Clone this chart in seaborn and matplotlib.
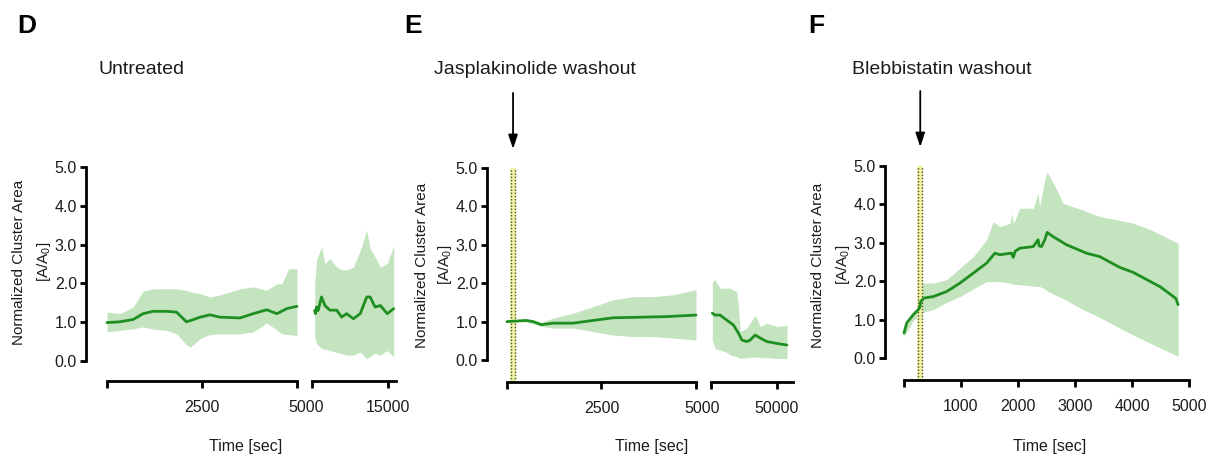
import numpy as np
import pandas as pd
import matplotlib
matplotlib.use("Agg")
import matplotlib.pyplot as plt
import matplotlib.transforms as mtransforms
import seaborn as sns

# ---------------- data ----------------
# Panel D (Untreated) - segment 1 (0-5000 s)
d1_line_t = [0, 330, 690, 950, 1210, 1570, 1830, 2090, 2220, 2450, 2710, 2970, 3500, 3850, 4200, 4470, 4730, 5000]
d1_line_y = [0.99, 1.01, 1.07, 1.22, 1.28, 1.28, 1.26, 1.01, 1.05, 1.13, 1.19, 1.13, 1.11, 1.22, 1.32, 1.22, 1.35, 1.41]
d1_band_t = [0, 330, 690, 950, 1210, 1570, 1830, 2090, 2200, 2450, 2710, 2970, 3500, 3850, 4200, 4470, 4600, 4780, 5000]
d1_band_hi = [1.26, 1.22, 1.39, 1.80, 1.86, 1.86, 1.86, 1.82, 1.78, 1.74, 1.65, 1.70, 1.86, 1.91, 1.82, 1.99, 1.99, 2.38, 2.38]
d1_band_lo = [0.75, 0.79, 0.83, 0.88, 0.82, 0.79, 0.70, 0.42, 0.36, 0.58, 0.68, 0.70, 0.70, 0.75, 0.98, 0.80, 0.70, 0.68, 0.66]
# Panel D - segment 2 (5000-16000 s)
d2_line_t = [5350, 5450, 5600, 5800, 6250, 6700, 7350, 8250, 8900, 9550, 10450, 11350, 12200, 12650, 13300, 14000, 14900, 15750]
d2_line_y = [1.30, 1.22, 1.39, 1.30, 1.65, 1.43, 1.31, 1.31, 1.13, 1.22, 1.09, 1.22, 1.65, 1.65, 1.39, 1.43, 1.22, 1.35]
d2_band_t = [5350, 5600, 6250, 6700, 7350, 8250, 8900, 9550, 10450, 11350, 12200, 12650, 13300, 14000, 14900, 15750]
d2_band_hi = [1.99, 2.60, 2.94, 2.51, 2.64, 2.42, 2.35, 2.35, 2.42, 2.85, 3.37, 2.90, 2.68, 2.42, 2.51, 2.98]
d2_band_lo = [0.62, 0.45, 0.32, 0.30, 0.27, 0.22, 0.19, 0.15, 0.15, 0.23, 0.06, 0.12, 0.20, 0.15, 0.27, 0.10]

# Panel E (Jasplakinolide washout) - segment 1
e1_line_t = [0, 510, 690, 910, 1220, 1750, 2280, 2810, 3340, 4220, 5000]
e1_line_y = [1.00, 1.03, 1.00, 0.92, 0.96, 0.96, 1.03, 1.10, 1.11, 1.13, 1.17]
e1_band_t = [0, 510, 900, 1220, 1750, 2280, 2810, 3340, 3870, 4400, 5000]
e1_band_hi = [1.00, 1.04, 0.98, 1.09, 1.22, 1.39, 1.57, 1.65, 1.65, 1.70, 1.83]
e1_band_lo = [1.00, 0.99, 0.88, 0.83, 0.83, 0.74, 0.65, 0.61, 0.61, 0.57, 0.52]
# Panel E - segment 2 (5000-61000 s)
e2_line_t = [5900, 7700, 11200, 15700, 20300, 23700, 26000, 29400, 31700, 35100, 38600, 43100, 50000, 56800]
e2_line_y = [1.22, 1.17, 1.17, 1.04, 0.91, 0.70, 0.52, 0.48, 0.52, 0.65, 0.57, 0.48, 0.43, 0.39]
e2_band_t = [5900, 7700, 11200, 15700, 18000, 22600, 23700, 24900, 29400, 35100, 38600, 43100, 50000, 56800]
e2_band_hi = [2.04, 2.09, 1.87, 1.87, 1.87, 1.78, 1.39, 0.74, 0.83, 1.17, 0.87, 0.96, 0.87, 0.91]
e2_band_lo = [0.52, 0.30, 0.26, 0.20, 0.13, 0.09, 0.06, 0.04, 0.06, 0.08, 0.06, 0.06, 0.04, 0.04]

# Panel F (Blebbistatin washout)
f_line_t = [0, 47, 164, 251, 280, 292, 350, 514, 748, 981, 1215, 1449, 1595, 1682, 1887, 1916, 1950, 2033,
            2266, 2354, 2370, 2412, 2471, 2512, 2617, 2850, 3200, 3435, 3785, 4020, 4500, 4770, 4808]
f_line_y = [0.65, 0.91, 1.13, 1.26, 1.32, 1.47, 1.56, 1.60, 1.73, 1.95, 2.21, 2.47, 2.73, 2.69, 2.73, 2.62, 2.78, 2.86,
            2.90, 3.08, 2.92, 2.90, 3.08, 3.27, 3.16, 2.95, 2.73, 2.64, 2.36, 2.23, 1.85, 1.55, 1.39]
f_band_t = [0, 150, 285, 300, 510, 750, 980, 1215, 1450, 1565, 1680, 1860, 1890, 1920, 2030, 2270, 2350, 2380,
            2470, 2510, 2680, 2790, 3140, 3440, 3730, 4020, 4310, 4810]
f_band_hi = [0.75, 1.10, 1.35, 1.95, 1.95, 2.04, 2.34, 2.64, 3.08, 3.55, 3.42, 3.51, 3.77, 3.50, 3.90, 3.90, 4.29, 3.95,
             4.64, 4.85, 4.38, 4.03, 3.85, 3.68, 3.60, 3.51, 3.35, 2.99]
f_band_lo = [0.55, 0.95, 1.15, 1.17, 1.26, 1.45, 1.60, 1.80, 1.99, 1.99, 1.99, 1.95, 1.93, 1.92, 1.91, 1.87, 1.86, 1.86,
             1.80, 1.75, 1.62, 1.55, 1.26, 1.05, 0.82, 0.60, 0.39, 0.04]

washout_e = 160
washout_f = 285

y_ticks = [0, 1, 2, 3, 4, 5]
y_ticklabels = ["0.0", "1.0", "2.0", "3.0", "4.0", "5.0"]
titles = ["Untreated", "Jasplakinolide washout", "Blebbistatin washout"]
letters = ["D", "E", "F"]
ylabel_main = "Normalized Cluster Area"
ylabel_unit = "[A/A$_0$]"
xlabel = "Time [sec]"

# ---------------- style ----------------
sns.set_theme(style="ticks")
plt.rcParams["font.family"] = ["Liberation Sans", "DejaVu Sans"]
plt.rcParams["mathtext.default"] = "regular"
TXT_C = "#1c1c1c"
plt.rcParams["text.color"] = TXT_C
plt.rcParams["xtick.labelcolor"] = TXT_C
plt.rcParams["ytick.labelcolor"] = TXT_C

LINE_C = "#1f8e20"
FILL_C = "#c4e4c0"
AX_LW = 2.0
TICK_FS = 11.5

W, H = 1215, 458
fig = plt.figure(figsize=(W / 100, H / 100), dpi=100)


def make_ax(x_left, x_right, t_px, t0, tref_px, tref, ypx0, ypx5, axis_px):
    scale = (tref - t0) / (tref_px - t_px)
    xlim = (t0 - (t_px - x_left) * scale, t0 + (x_right - t_px) * scale)
    unit = (ypx0 - ypx5) / 5.0
    top_px = ypx5 - 3
    ylim = (-(axis_px - ypx0) / unit, 5 + 3 / unit)
    ax = fig.add_axes([x_left / W, 1 - axis_px / H, (x_right - x_left) / W, (axis_px - top_px) / H])
    ax.set_xlim(*xlim)
    ax.set_ylim(*ylim)
    ax.patch.set_alpha(0)
    for s in ("top", "right"):
        ax.spines[s].set_visible(False)
    for s in ("left", "bottom"):
        ax.spines[s].set_linewidth(AX_LW)
        ax.spines[s].set_color("black")
    ax.tick_params(axis="x", direction="out", length=5, width=AX_LW, pad=9, labelsize=TICK_FS, color="black")
    ax.tick_params(axis="y", direction="out", length=4.5, width=AX_LW, pad=2, labelsize=TICK_FS, color="black")
    return ax, unit, ylim


def draw(ax, lt, ly, bt, bhi, blo):
    ax.fill_between(bt, blo, bhi, color=FILL_C, lw=0, zorder=1)
    sns.lineplot(x=lt, y=ly, ax=ax, color=LINE_C, lw=2.0, zorder=3, clip_on=False)
    ax.set_xlabel("")
    ax.set_ylabel("")


def first_axis(ax, t_end, xt, xl):
    ax.spines["left"].set_bounds(0, 5)
    ax.set_yticks(y_ticks)
    ax.set_yticklabels(y_ticklabels)
    ax.spines["bottom"].set_bounds(0, t_end)
    ax.set_xticks(xt)
    ax.set_xticklabels(xl)


def second_axis(ax, xt, xl):
    ax.spines["left"].set_visible(False)
    ax.set_yticks([])
    ax.set_xticks(xt)
    ax.set_xticklabels(xl)


def shared_label(ax, t, dx_pt):
    ax.annotate("5000", xy=(t, 0), xycoords=("data", "axes fraction"), xytext=(dx_pt, -(5 + 9)),
                textcoords="offset points", ha="center", va="top", fontsize=TICK_FS, annotation_clip=False)


def washout(ax, t, ylo, unit):
    ax.plot([t, t], [ylo, 5], color="#eef3a4", lw=4.2, solid_capstyle="butt", clip_on=False, zorder=2)
    for dx in (-1.5, 1.5):
        tr = mtransforms.offset_copy(ax.transData, fig=fig, x=dx, y=0, units="points")
        ax.plot([t, t], [ylo, 5], color="#4d4d2e", lw=1.0, ls=(0, (1, 1.3)), transform=tr, clip_on=False, zorder=2)
    ax.annotate("", xy=(t, 5 + 19 / unit), xytext=(t, 5 + 75 / unit), annotation_clip=False,
                arrowprops=dict(arrowstyle="-|>,head_length=0.6,head_width=0.2", mutation_scale=14,
                                color="black", lw=1.3, shrinkA=0, shrinkB=0))


# ---- Panel D ----
axd1, ud, yld = make_ax(86, 299, 107, 0, 297, 5000, 361, 167, 381)
draw(axd1, d1_line_t, d1_line_y, d1_band_t, d1_band_hi, d1_band_lo)
first_axis(axd1, 5000, [0, 2500, 5000], ["", "2500", ""])
shared_label(axd1, 5000, 6.5)
axd2, _, _ = make_ax(312, 396, 312, 5000, 388, 15000, 361, 167, 381)
draw(axd2, d2_line_t, d2_line_y, d2_band_t, d2_band_hi, d2_band_lo)
second_axis(axd2, [5000, 15000], ["", "15000"])

# ---- Panel E ----
axe1, ue, yle = make_ax(487, 698, 507, 0, 696, 5000, 360, 168, 382)
draw(axe1, e1_line_t, e1_line_y, e1_band_t, e1_band_hi, e1_band_lo)
first_axis(axe1, 5000, [0, 2500, 5000], ["", "2500", ""])
shared_label(axe1, 5000, 4.5)
washout(axe1, washout_e, yle[0], ue)
axe2, _, _ = make_ax(711, 793, 711, 5000, 777, 50000, 360, 168, 382)
draw(axe2, e2_line_t, e2_line_y, e2_band_t, e2_band_hi, e2_band_lo)
second_axis(axe2, [5000, 50000], ["", "50000"])

# ---- Panel F ----
axf, uf, ylf = make_ax(885, 1192, 904, 0, 1189, 5000, 358, 166, 380)
draw(axf, f_line_t, f_line_y, f_band_t, f_band_hi, f_band_lo)
first_axis(axf, 5000, [0, 1000, 2000, 3000, 4000, 5000], ["", "1000", "2000", "3000", "4000", "5000"])
washout(axf, washout_f, ylf[0], uf)

# ---- texts ----
for lx, tx, ycl1, ycl2, ylc, xlx, xly, lt, tt in [
    (17, 141, 19, 44, 262, 246, 446, letters[0], titles[0]),
    (404, 535, 422, 445, 265, 652, 447, letters[1], titles[1]),
    (808, 942, 818, 843, 265, 1050, 447, letters[2], titles[2]),
]:
    fig.text(lx / W, 1 - 26 / H, lt, fontsize=19, fontweight="bold", ha="left", va="center", color="black")
    fig.text(tx / W, 1 - 70 / H, tt, fontsize=14, ha="center", va="center")
    fig.text(ycl1 / W, 1 - ylc / H, ylabel_main, fontsize=11, rotation=90, ha="center", va="center")
    fig.text(ycl2 / W, 1 - ylc / H, ylabel_unit, fontsize=11, rotation=90, ha="center", va="center")
    fig.text(xlx / W, 1 - xly / H, xlabel, fontsize=11.5, ha="center", va="center")

fig.savefig("out.png", dpi=100, facecolor="white")
